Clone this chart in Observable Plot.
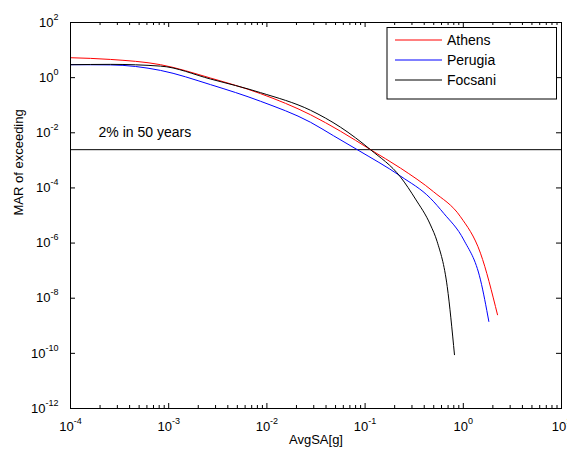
<!DOCTYPE html>
<html>
<head>
<meta charset="utf-8">
<script src="https://cdn.jsdelivr.net/npm/d3@7"></script>
<script src="https://cdn.jsdelivr.net/npm/@observablehq/plot@0.6"></script>
<style>
  body { margin: 0; background: #fff; }
  #chart { position: relative; width: 567px; height: 454px; }
</style>
</head>
<body>
<div id="chart"></div>
<script>
// ---- data ----
const seriesNames = ["Athens", "Perugia", "Focsani"];
const seriesColors = ["#ff0000", "#0000ff", "#000000"];

const athensX = [1e-4, 2.55e-4, 8.26e-4, 2.67e-3, 8.61e-3, 0.0278, 0.0562, 0.1135, 0.2296, 0.498, 0.936, 1.496, 2.23];
const athensY = [5.28, 4.58, 2.95, 0.966, 0.263, 0.0451, 0.01138, 2.44e-3, 5.22e-4, 7.24e-5, 9.04e-6, 4.29e-7, 2.51e-9];

const perugiaX = [1e-4, 2.55e-4, 8.26e-4, 2.67e-3, 8.61e-3, 0.0278, 0.0476, 0.0832, 0.2296, 0.4634, 0.632, 1.012, 1.496, 1.82];
const perugiaY = [2.95, 2.90, 1.83, 0.557, 0.139, 0.0241, 7.83e-3, 2.44e-3, 2.68e-4, 4.19e-5, 1.20e-5, 1.30e-6, 4.63e-8, 1.44e-9];

const focsaniX = [1e-4, 2.55e-4, 8.26e-4, 2.67e-3, 8.61e-3, 0.0278, 0.0562, 0.1135, 0.2296, 0.326, 0.4634, 0.542, 0.686, 0.813];
const focsaniY = [2.95, 3.03, 2.62, 0.889, 0.286, 0.0655, 0.0159, 2.44e-3, 2.47e-4, 3.95e-5, 4.53e-6, 1.12e-6, 2.65e-8, 8.95e-11];

const hazardLevel = [2.44e-3];
const annotation = [{x: 1.93e-4, y: 0.0105, label: "2% in 50 years"}];

const xTicks = [1e-4, 1e-3, 1e-2, 1e-1, 1, 10];
const yTicks = [1e2, 1, 1e-2, 1e-4, 1e-6, 1e-8, 1e-10, 1e-12];
const minorMultipliers = [2, 3, 4, 5, 6, 7, 8, 9];
const xLabel = "AvgSA[g]";
const yLabel = "MAR of exceeding";

// ---- build table ----
const seriesData = [[athensX, athensY], [perugiaX, perugiaY], [focsaniX, focsaniY]];
const rows = [];
seriesData.forEach(([xs, ys], i) => xs.forEach((x, j) => rows.push({series: seriesNames[i], x, y: ys[j]})));
const xMinor = [];
xTicks.slice(0, -1).forEach(d => minorMultipliers.forEach(m => xMinor.push(d * m)));

const W = 567, H = 454, mL = 70, mR = 6, mT = 22, mB = 46;
const innerW = W - mL - mR, innerH = H - mT - mB;
const fmt = d => `10^${Math.round(Math.log10(d))}`;

const plot = Plot.plot({
  width: W, height: H,
  marginLeft: mL, marginRight: mR, marginTop: mT, marginBottom: mB,
  style: {fontFamily: "'Liberation Sans', Arial, sans-serif", fontSize: "13px", color: "#000", background: "#fff", overflow: "visible"},
  x: {type: "log", domain: [1e-4, 10]},
  y: {type: "log", domain: [1e-12, 1e2]},
  color: {domain: seriesNames, range: seriesColors},
  marks: [
    Plot.ruleY(hazardLevel, {y: d => d, stroke: "#000", strokeWidth: 1}),
    Plot.line(rows, {x: "x", y: "y", z: "series", stroke: "series", strokeWidth: 1, curve: "monotone-x"}),
    Plot.text(annotation, {x: "x", y: "y", text: "label", textAnchor: "start", fontSize: 14}),
    Plot.tickX(xTicks, {x: d => d, insetTop: innerH - 5, stroke: "#000"}),
    Plot.tickX(xTicks, {x: d => d, insetBottom: innerH - 5, stroke: "#000"}),
    Plot.tickX(xMinor, {x: d => d, insetTop: innerH - 3, stroke: "#000"}),
    Plot.tickX(xMinor, {x: d => d, insetBottom: innerH - 3, stroke: "#000"}),
    Plot.tickY(yTicks, {y: d => d, insetRight: innerW - 5, stroke: "#000"}),
    Plot.tickY(yTicks, {y: d => d, insetLeft: innerW - 5, stroke: "#000"}),
    Plot.axisX(xTicks, {tickSize: 0, tickPadding: 13, tickFormat: fmt, label: null}),
    Plot.axisY(yTicks, {tickSize: 0, tickPadding: 12, tickFormat: fmt, label: null}),
    Plot.frame({stroke: "#000"}),
    Plot.text([yLabel], {text: d => d, frameAnchor: "left", rotate: -90, dx: -52, fontSize: 13}),
    Plot.text([xLabel], {text: d => d, frameAnchor: "bottom", dy: 35, fontSize: 13})
  ]
});

const svg = d3.select(plot);
svg.selectAll('g[aria-label="x-axis tick label"] text, g[aria-label="y-axis tick label"] text').each(function () {
  const parts = this.textContent.split("^");
  if (parts.length === 2) {
    const t = d3.select(this);
    t.text(parts[0]);
    t.append("tspan").attr("dy", -7).attr("font-size", "9px").text(parts[1]);
  }
});

// legend
const lg = svg.append("g").attr("font-size", 14).attr("text-anchor", "start");
lg.append("rect").attr("x", 387).attr("y", 27.5).attr("width", 169.5).attr("height", 71.5)
  .attr("fill", "#fff").attr("stroke", "#000");
seriesNames.forEach((name, i) => {
  const yy = 40 + i * 20;
  lg.append("line").attr("x1", 395).attr("x2", 442).attr("y1", yy).attr("y2", yy)
    .attr("stroke", seriesColors[i]).attr("stroke-width", 1);
  lg.append("text").attr("x", 447).attr("y", yy).attr("dy", "0.35em")
    .attr("text-anchor", "start").attr("fill", "#000").text(name);
});

document.getElementById("chart").appendChild(plot);
</script>
</body>
</html>
